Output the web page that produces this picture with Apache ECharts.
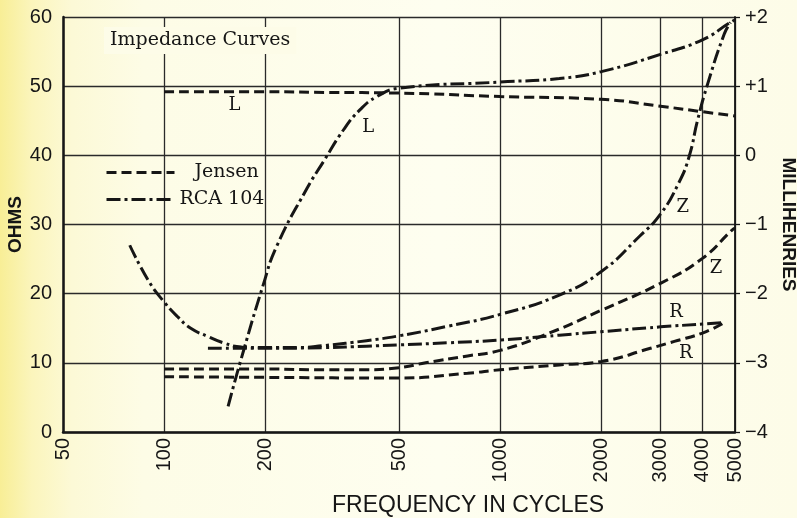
<!DOCTYPE html>
<html>
<head>
<meta charset="utf-8">
<script src="https://cdn.jsdelivr.net/npm/echarts@6/dist/echarts.min.js"></script>
<style>
  html, body { margin: 0; padding: 0; }
  body {
    width: 797px; height: 518px; overflow: hidden;
    background: linear-gradient(to right, #f8ee96 0%, #fbf5bc 4%, #fcf9d6 9%, #fdfce6 18%, #fefef0 55%, #fdfce8 100%);
  }
  #chart { width: 797px; height: 518px; }
</style>
</head>
<body>
<div id="chart"></div>
<script>
// Frequency grid (cycles) used for ticks, labels and vertical rules
const freqTicks = [50, 100, 200, 500, 1000, 2000, 3000, 4000, 5000];

// Jensen speaker
const jensenL_f  = [100, 200, 300, 500, 1000, 2000, 3000, 4000, 5000];
const jensenL_mH = [0.92, 0.92, 0.91, 0.90, 0.85, 0.81, 0.71, 0.63, 0.57];
const jensenZ_f  = [100, 200, 300, 400, 500, 600, 800, 1000, 1400, 2000, 3000, 4000, 4900, 5000];
const jensenZ_ohm = [9.1, 9.1, 9.0, 9.0, 9.3, 10.0, 11.0, 11.8, 14.3, 17.6, 21.5, 25.1, 29.2, 29.5];
const jensenR_f  = [100, 200, 500, 800, 1000, 1500, 2000, 2800, 3300, 4000, 4600];
const jensenR_ohm = [8.0, 7.9, 7.8, 8.5, 9.0, 9.7, 10.2, 12.1, 13.1, 14.3, 15.7];

// RCA 104 speaker
const rcaL_f  = [155, 168, 197, 216, 266, 298, 342, 383, 430, 500, 1000, 1500, 2000, 3000, 4000, 4800, 5000];
const rcaL_mH = [-3.63, -3.01, -1.88, -1.32, -0.48, -0.09, 0.37, 0.66, 0.85, 0.97, 1.06, 1.11, 1.21, 1.46, 1.67, 1.91, 1.96];
const rcaZ_f  = [79, 90, 100, 110, 120, 135, 150, 170, 200, 250, 300, 400, 500, 700, 1000, 1500, 2000, 2600, 3000, 3400, 3650, 3870, 4150, 4650, 4850];
const rcaZ_ohm = [27.0, 21.8, 18.8, 16.6, 15.0, 13.8, 12.9, 12.3, 12.2, 12.2, 12.5, 13.2, 13.9, 15.3, 17.0, 19.8, 23.2, 28.3, 31.5, 36.0, 39.8, 45.1, 50.4, 57.6, 59.2];
const rcaR_f  = [135, 200, 300, 400, 500, 700, 1000, 1500, 2000, 3000, 4000, 4600];
const rcaR_ohm = [12.1, 12.1, 12.2, 12.4, 12.6, 12.9, 13.3, 14.0, 14.5, 15.2, 15.6, 15.8];

// Curve letters: [frequency, value, letter]
const curveTags = {
  jensenL: [162, 0.73, 'L'],
  rcaL:    [405, 0.40, 'L'],
  rcaZ:    [3497, 32.5, 'Z'],
  jensenZ: [4390, 23.7, 'Z'],
  rcaR:    [3335, 17.3, 'R'],
  jensenR: [3570, 11.4, 'R']
};

const pairs = (xs, ys) => xs.map((x, i) => [x, ys[i]]);

const INK = '#161616';
const SERIF = '"DejaVu Serif", "Liberation Serif", serif';
const SANS = '"Liberation Sans", Arial, sans-serif';
const DASH = [10, 5];
const DASHDOT = [14, 4, 3, 4];

function tag(key) {
  const t = curveTags[key];
  return {
    symbol: 'circle',
    symbolSize: 2,
    silent: true,
    itemStyle: { color: 'rgba(0,0,0,0)' },
    label: { show: true, position: 'inside', formatter: t[2], color: INK, fontFamily: SERIF, fontSize: 18 },
    data: [{ coord: [t[0], t[1]], value: t[2] }]
  };
}

function curve(name, data, dash, yIdx, key) {
  return {
    name: name,
    type: 'line',
    yAxisIndex: yIdx,
    data: data,
    smooth: 0.5,
    symbol: 'none',
    showSymbol: false,
    silent: true,
    lineStyle: { color: INK, width: 3, type: dash, cap: 'butt' },
    itemStyle: { color: INK },
    markPoint: tag(key),
    z: 3
  };
}

const chart = echarts.init(document.getElementById('chart'), null, { renderer: 'canvas' });

chart.setOption({
  animation: false,
  backgroundColor: 'transparent',
  grid: { left: 63, right: 62, top: 17, bottom: 86, containLabel: false, outerBoundsMode: 'none' },
  title: [
    {
      text: 'Impedance Curves',
      left: 104, top: 27,
      padding: [4, 6],
      backgroundColor: '#fdfce8',
      textStyle: { fontFamily: SERIF, fontSize: 19, fontWeight: 'normal', color: INK }
    },
    {
      text: 'FREQUENCY IN CYCLES',
      left: 332, top: 494,
      padding: 0,
      textStyle: { fontFamily: SANS, fontSize: 23, fontWeight: 'normal', color: INK }
    }
  ],
  legend: {
    orient: 'vertical',
    left: 105, top: 163,
    padding: 0,
    itemWidth: 68, itemHeight: 14, itemGap: 8,
    data: ['Jensen', 'RCA 104'],
    formatter: n => n === 'Jensen' ? '{j|Jensen}' : '{r|RCA 104}',
    lineStyle: { width: 3 },
    textStyle: {
      color: INK, fontFamily: SERIF, fontSize: 19,
      rich: {
        j: { fontFamily: SERIF, fontSize: 19, color: INK, padding: [0, 0, 0, 15] },
        r: { fontFamily: SERIF, fontSize: 19, color: INK, padding: [0, 0, 0, 0] }
      }
    },
    itemStyle: { opacity: 0 }
  },
  xAxis: {
    type: 'log', logBase: 10, min: 50, max: 5000,
    axisLine: { show: true, onZero: false, lineStyle: { color: INK, width: 2.5 } },
    axisTick: { show: false, customValues: freqTicks },
    axisLabel: {
      customValues: freqTicks, rotate: 90, margin: 6,
      color: INK, fontFamily: SANS, fontSize: 20,
      formatter: v => String(Math.round(v))
    },
    splitLine: { show: true, lineStyle: { color: '#2a2a2a', width: 1.3 } },
    minorTick: { show: false }, minorSplitLine: { show: false }
  },
  yAxis: [
    {
      type: 'value', min: 0, max: 60, interval: 10, position: 'left',
      name: 'OHMS', nameLocation: 'middle', nameGap: 38, nameRotate: 90,
      nameMoveOverlap: false,
      nameTextStyle: { fontFamily: SANS, fontSize: 19, fontWeight: 'bold', color: INK },
      axisLine: { show: true, lineStyle: { color: INK, width: 2.5 } },
      axisTick: { show: false },
      axisLabel: { margin: 11, color: INK, fontFamily: SANS, fontSize: 20 },
      splitLine: { show: true, lineStyle: { color: '#2a2a2a', width: 1.3 } }
    },
    {
      type: 'value', min: -4, max: 2, interval: 1, position: 'right',
      name: 'MILLIHENRIES', nameLocation: 'middle', nameGap: 44, nameRotate: -90,
      nameTextStyle: { fontFamily: SANS, fontSize: 19, fontWeight: 'bold', color: INK },
      axisLine: { show: true, lineStyle: { color: INK, width: 1.8 } },
      axisTick: { show: true, length: 5, inside: false, lineStyle: { color: INK, width: 1.3 } },
      axisLabel: {
        margin: 10, color: INK, fontFamily: SANS, fontSize: 20,
        formatter: v => v > 0 ? '+' + v : (v < 0 ? '\u2212' + Math.abs(v) : '0')
      },
      splitLine: { show: false }
    }
  ],
  series: [
    curve('Jensen', pairs(jensenL_f, jensenL_mH), DASH, 1, 'jensenL'),
    curve('Jensen', pairs(jensenZ_f, jensenZ_ohm), DASH, 0, 'jensenZ'),
    curve('Jensen', pairs(jensenR_f, jensenR_ohm), DASH, 0, 'jensenR'),
    curve('RCA 104', pairs(rcaL_f, rcaL_mH), DASHDOT, 1, 'rcaL'),
    curve('RCA 104', pairs(rcaZ_f, rcaZ_ohm), DASHDOT, 0, 'rcaZ'),
    curve('RCA 104', pairs(rcaR_f, rcaR_ohm), DASHDOT, 0, 'rcaR')
  ]
});
</script>
</body>
</html>
